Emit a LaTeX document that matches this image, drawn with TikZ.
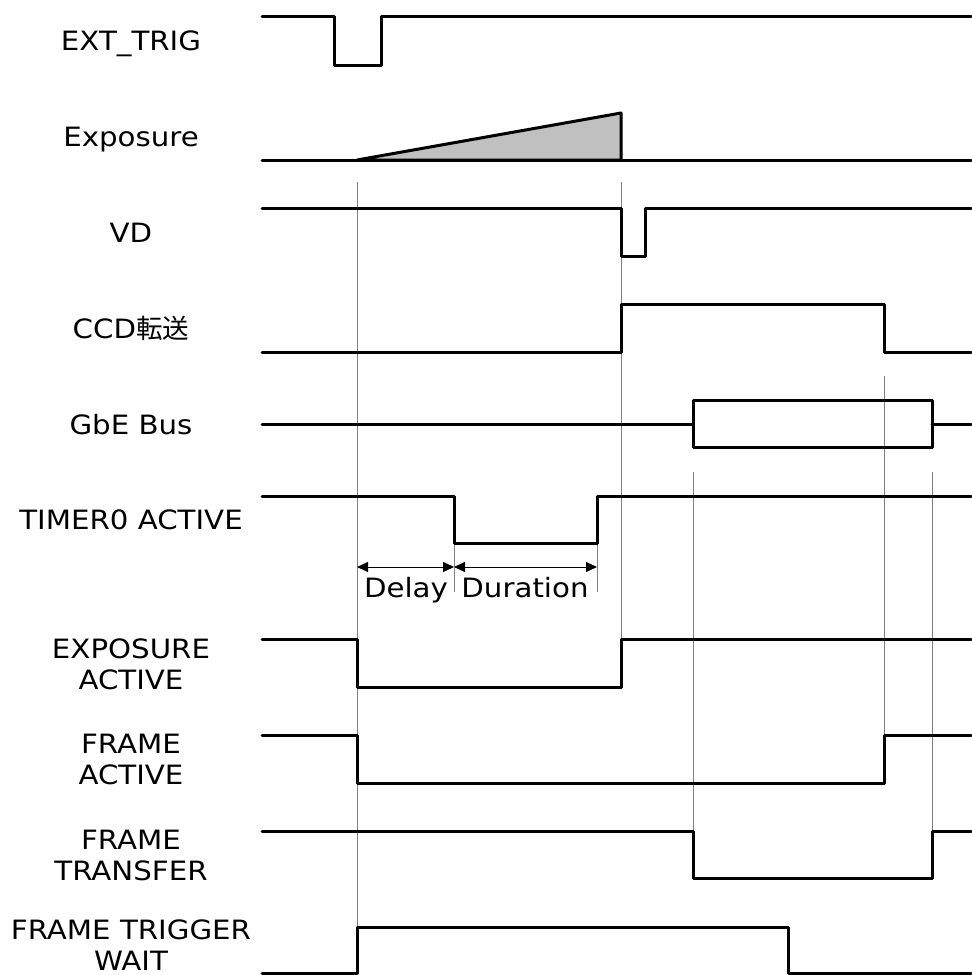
\documentclass[tikz,border=0pt]{standalone}
\usepackage{fontspec}
\setmainfont[FakeStretch=1.1]{DejaVu Sans}
\newfontfamily\jpfont{Noto Sans CJK JP}
\usepackage{xcolor}
\usepackage{tikz}
\usetikzlibrary{arrows.meta}
\definecolor{rampgray}{RGB}{192,192,192}

\begin{document}
\begin{tikzpicture}[
  x=0.5pt, y=-0.5pt,
  font=\fontsize{13.3pt}{15.5pt}\selectfont,
  sig/.style={line width=1.5pt, line join=round, line cap=round},
  guide/.style={line width=0.5pt, draw=gray},
  dim/.style={{Triangle[length=5.5pt,width=5pt]}-{Triangle[length=5.5pt,width=5pt]}, line width=0.5pt},
  lbl/.style={anchor=base, inner sep=0pt},
  lbl2/.style={align=center, inner sep=0pt}
]
\useasboundingbox (0,0) rectangle (971,975);

% signal names
\node[lbl] (nExt) at (131,50) {EXT\_TRIG};
\node[lbl] (nExp) at (131,146) {Exposure};
\node[lbl] (nVd) at (131,242) {VD};
\node[lbl] (nCcd) at (131,338) {CCD{\jpfont 転送}};
\node[lbl] (nGbe) at (131,434) {GbE Bus};
\node[lbl] (nTim) at (131,529) {TIMER0 ACTIVE};
\node[lbl2] (nExpAct) at (131,664) {EXPOSURE\\ACTIVE};
\node[lbl2] (nFrmAct) at (131,759) {FRAME\\ACTIVE};
\node[lbl2] (nFrmTrf) at (131,855) {FRAME\\TRANSFER};
\node[lbl2] (nFrmWait) at (131,945) {FRAME TRIGGER\\WAIT};

% guide lines
\draw[guide] (357,182) -- (357,973);
\draw[guide] (621,182) -- (621,639);
\draw[guide] (884,376) -- (884,735);
\draw[guide] (693,472) -- (693,831);
\draw[guide] (932,472) -- (932,831);
\draw[guide] (454,543) -- (454,592);
\draw[guide] (597,543) -- (597,592);

% waveforms
\draw[sig] (262,16) -- (334,16) -- (334,65) -- (381,65) -- (381,16) -- (971,16);
\filldraw[sig, fill=rampgray] (357,160) -- (621,113) -- (621,160) -- cycle;
\draw[sig] (262,160) -- (971,160);
\draw[sig] (262,208) -- (621,208) -- (621,256) -- (645,256) -- (645,208) -- (971,208);
\draw[sig] (262,352) -- (621,352) -- (621,304) -- (884,304) -- (884,352) -- (971,352);
\draw[sig] (262,424) -- (693,424);
\draw[sig] (693,400) rectangle (932,447);
\draw[sig] (932,424) -- (971,424);
\draw[sig] (262,496) -- (454,496) -- (454,543) -- (597,543) -- (597,496) -- (971,496);
\draw[sig] (262,639) -- (357,639) -- (357,687) -- (621,687) -- (621,639) -- (971,639);
\draw[sig] (262,735) -- (357,735) -- (357,783) -- (884,783) -- (884,735) -- (971,735);
\draw[sig] (262,831) -- (693,831) -- (693,878) -- (932,878) -- (932,831) -- (971,831);
\draw[sig] (262,973) -- (357,973) -- (357,927) -- (788,927) -- (788,973) -- (971,973);

% delay and duration
\coordinate (dA) at (357,567);
\coordinate (dB) at (454,567);
\coordinate (dC) at (597,567);
\draw[dim] (dA) -- (dB);
\draw[dim] (dB) -- (dC);
\node[lbl] (nDelay) at (406,597) {Delay};
\node[lbl] (nDur) at (525,597) {Duration};
\end{tikzpicture}
\end{document}
